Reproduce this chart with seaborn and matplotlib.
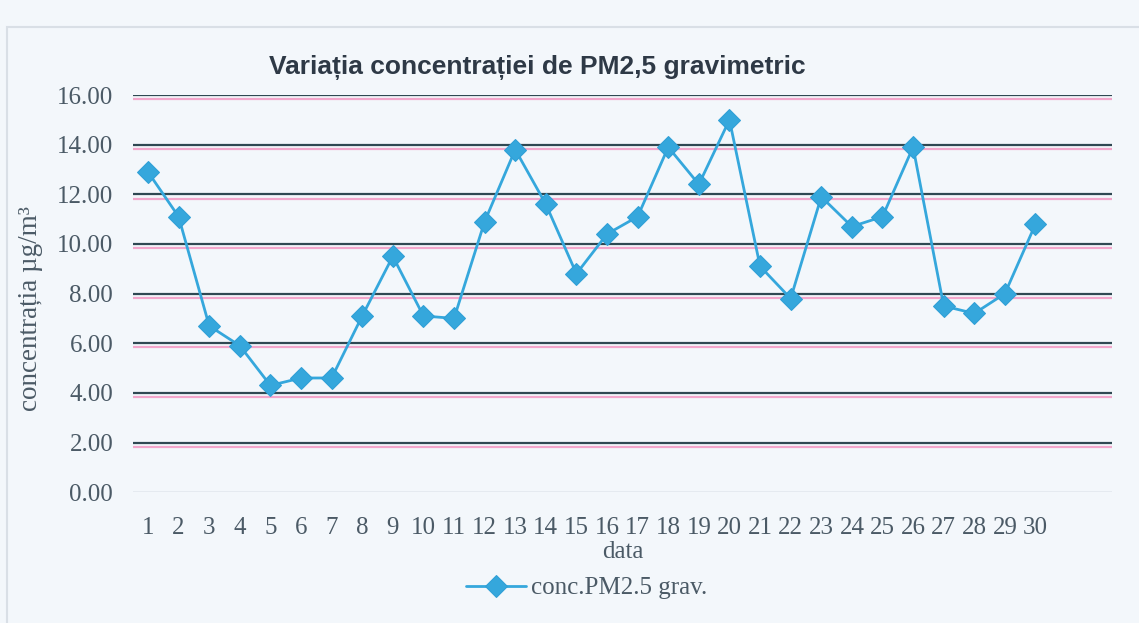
import pandas as pd
import seaborn as sns
import matplotlib.pyplot as plt
from matplotlib.patches import Rectangle

# days and PM2.5 values
zile = list(range(1, 31))
pm25 = [12.9, 11.1, 6.7, 5.9, 4.3, 4.6, 4.6, 7.1, 9.5, 7.1,
        7.0, 10.9, 13.8, 11.6, 8.8, 10.4, 11.1, 13.9, 12.4, 15.0,
        9.1, 7.8, 11.9, 10.7, 11.1, 13.9, 7.5, 7.2, 8.0, 10.8]
y_ticks = [0, 2, 4, 6, 8, 10, 12, 14, 16]

df = pd.DataFrame({'data': zile, 'conc': pm25})

sns.set_theme(style='white')
plt.rcParams['font.family'] = ['Liberation Serif', 'DejaVu Serif']

paper = '#f3f7fb'
blue = '#35a7dc'
dark = '#2f4852'
pink = '#f2a6cb'
txt = '#4b5a66'

fig = plt.figure(figsize=(11.39, 6.23), dpi=100, facecolor=paper)
ax = fig.add_axes([0.1165, 0.21, 0.8598, 0.6375])
ax.set_facecolor(paper)

# faint chart frame from the scan
fig.patches.append(Rectangle((7 / 1139, -0.1), 1.2, 1 - 27 / 623 + 0.1,
                             transform=fig.transFigure, fill=False,
                             edgecolor='#d9dfe6', lw=1.5))

sns.lineplot(data=df, x='data', y='conc', ax=ax, color=blue, lw=2.0,
             marker='D', markersize=11, markeredgecolor='#2f9fd6',
             label='conc.PM2.5 grav.', legend=False, zorder=3)

ax.set_xlim(0.5, 32.5)
ax.set_ylim(0, 16)
ax.set_yticks(y_ticks)
ax.set_yticklabels([f'{v:.2f}' for v in y_ticks])
ax.set_xticks(zile)
ax.set_xticklabels([str(z) for z in zile])
ax.tick_params(axis='y', labelsize=18, colors=txt, length=0, pad=14)
ax.tick_params(axis='x', labelsize=18, colors=txt, length=0, pad=18)
for s in ax.spines.values():
    s.set_visible(False)

# gridlines: dark line with pink shadow below (colour misregistration)
for t in y_ticks[1:]:
    ax.axhline(t, color=dark, lw=1.6, zorder=0.6)
    ax.axhline(t - 0.17, color=pink, lw=1.6, zorder=0.5)
ax.axhline(0, color='#e3e8ee', lw=1.2, zorder=0.5)

ax.set_xlabel('data', fontsize=18, color=txt, labelpad=1)
ax.set_ylabel('')
fig.text(0.027, 0.505, 'concentrația µg/m³', rotation=90, fontsize=19.5,
         color=txt, ha='center', va='center')

fig.text(0.472, 0.891, 'Variația concentrației de PM2,5 gravimetric',
         fontsize=19, fontweight='bold', color='#2e3946',
         family=['Liberation Sans', 'DejaVu Sans'], ha='center', va='center')

h, l = ax.get_legend_handles_labels()
fig.legend(h, l, loc='center', bbox_to_anchor=(0.515, 0.056), frameon=False,
           fontsize=18, handlelength=2.4, handletextpad=0.2, labelcolor=txt)

fig.savefig('out.png', dpi=100, facecolor=paper)
